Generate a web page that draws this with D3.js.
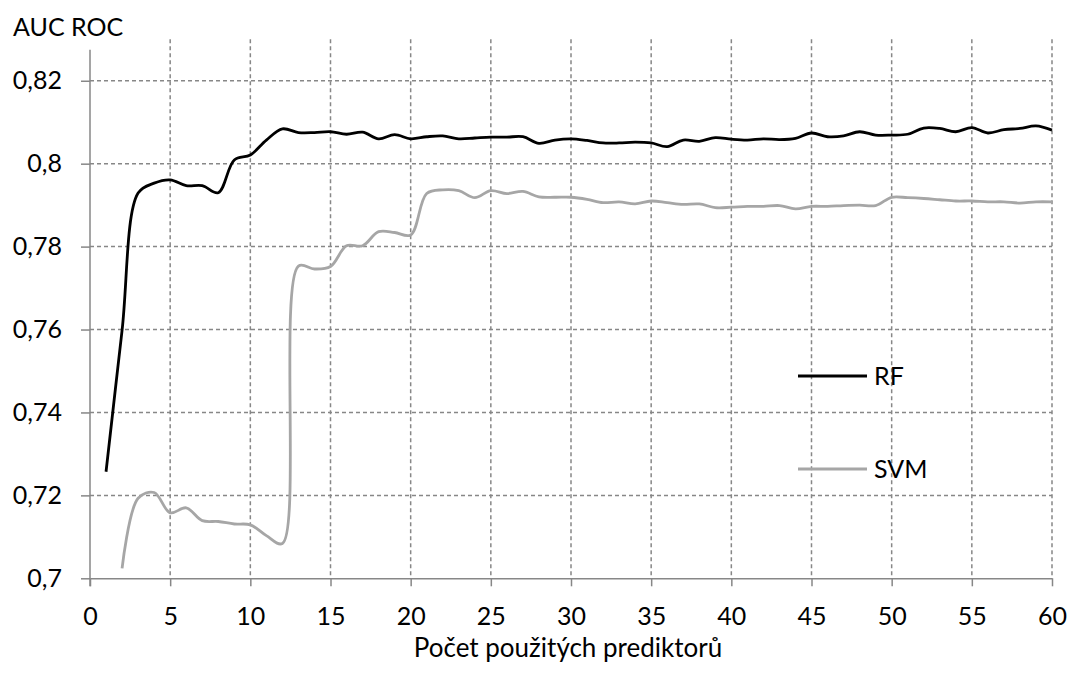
<!DOCTYPE html>
<html>
<head>
<meta charset="utf-8">
<script src="https://cdn.jsdelivr.net/npm/d3@7"></script>
<style>
  body { margin: 0; background: #fff; }
  text { font-family: Lato, "Open Sans", sans-serif; fill: #000; }
</style>
</head>
<body>
<div class="container"></div>
<script>
// x = number of predictors, y = AUC ROC
const rfX = d3.range(1, 61)
const rfValues = [
  0.7257, 0.7598, 0.7929, 0.7953, 0.7961, 0.7947, 0.7947, 0.7930, 0.8009, 0.8021,
  0.8057, 0.8084, 0.8075, 0.8075, 0.8077, 0.8071, 0.8076, 0.8060, 0.8070, 0.8060,
  0.8065, 0.8067, 0.8060, 0.8062, 0.8064, 0.8064, 0.8065, 0.8049, 0.8057, 0.8060,
  0.8056, 0.8050, 0.8050, 0.8052, 0.8050, 0.8041, 0.8057, 0.8054, 0.8063, 0.8059,
  0.8057, 0.8060, 0.8058, 0.8061, 0.8074, 0.8065, 0.8067, 0.8077, 0.8069, 0.8069,
  0.8071, 0.8086, 0.8085, 0.8077, 0.8087, 0.8074, 0.8082, 0.8085, 0.8091, 0.8081
]
const svmX = d3.range(2, 61)
const svmValues = [
  0.7024, 0.7193, 0.7207, 0.7158, 0.7170, 0.7139, 0.7137, 0.7131, 0.7129,
  0.7103, 0.7084, 0.7753, 0.7746, 0.7752, 0.7802, 0.7802, 0.7836, 0.7834, 0.7828,
  0.7928, 0.7937, 0.7935, 0.7918, 0.7935, 0.7928, 0.7933, 0.7920, 0.7919, 0.7919,
  0.7914, 0.7906, 0.7908, 0.7903, 0.7910, 0.7906, 0.7902, 0.7903, 0.7894, 0.7895,
  0.7897, 0.7897, 0.7899, 0.7891, 0.7897, 0.7897, 0.7899, 0.7900, 0.7899, 0.7919,
  0.7918, 0.7916, 0.7913, 0.7910, 0.7910, 0.7908, 0.7908, 0.7905, 0.7908, 0.7908
]
const xTicks = d3.range(0, 61, 5)
const yTicks = [0.7, 0.72, 0.74, 0.76, 0.78, 0.8, 0.82]
const seriesNames = ["RF", "SVM"]
const seriesColors = ["#000000", "#a6a6a6"]

const width = 1070, height = 674
const plotLeft = 90, plotRight = 1052, plotTop = 39.3, plotBottom = 578.3

const svg = d3.select(".container")
              .append("svg")
              .attr("width", width)
              .attr("height", height)

const x = d3.scaleLinear().domain([0, 60]).range([plotLeft, plotRight])
const y = d3.scaleLinear().domain([0.7, 0.83]).range([plotBottom, plotTop])

const gridColor = "#878787"

// horizontal grid
svg.selectAll(".hgrid")
   .data(yTicks.filter(d => d > 0.7))
   .enter()
   .append("line")
   .attr("x1", plotLeft).attr("x2", plotRight)
   .attr("y1", d => y(d)).attr("y2", d => y(d))
   .attr("stroke", gridColor)
   .attr("stroke-width", 1.5)
   .attr("stroke-dasharray", "4,3")

// vertical grid
svg.selectAll(".vgrid")
   .data(xTicks.filter(d => d > 0))
   .enter()
   .append("line")
   .attr("x1", d => x(d)).attr("x2", d => x(d))
   .attr("y1", plotTop).attr("y2", plotBottom)
   .attr("stroke", gridColor)
   .attr("stroke-width", 1.5)
   .attr("stroke-dasharray", "4,3")

// y axis
const yAxis = svg.append("g")
   .attr("transform", `translate(${plotLeft},0)`)
   .call(d3.axisLeft(y).tickValues(yTicks).tickSize(9).tickPadding(19)
     .tickFormat(d => String(+d.toFixed(2)).replace(".", ",")))
yAxis.select(".domain").remove()
yAxis.append("line")
   .attr("x1", 0).attr("x2", 0)
   .attr("y1", y(0.8275)).attr("y2", plotBottom + 8)
   .attr("stroke", gridColor).attr("stroke-width", 1.5)
yAxis.selectAll(".tick line").attr("stroke", gridColor).attr("stroke-width", 1.5)
yAxis.selectAll(".tick text").attr("font-size", 25).attr("font-family", "Lato").attr("fill", "#000")

// x axis
const xAxis = svg.append("g")
   .attr("transform", `translate(0,${plotBottom})`)
   .call(d3.axisBottom(x).tickValues(xTicks).tickSize(8).tickPadding(21).tickSizeOuter(0))
xAxis.select(".domain").attr("stroke", gridColor).attr("stroke-width", 1.5)
xAxis.selectAll(".tick line").attr("stroke", gridColor).attr("stroke-width", 1.5)
xAxis.selectAll(".tick text").attr("font-size", 25).attr("font-family", "Lato").attr("fill", "#000")

// lines (smoothed)
const line = d3.line()
   .x(d => x(d[0]))
   .y(d => y(d[1]))
   .curve(d3.curveCatmullRom.alpha(0.5))

const series = [
  rfX.map((v, i) => [v, rfValues[i]]),
  svmX.map((v, i) => [v, svmValues[i]])
]

svg.selectAll(".series")
   .data([1, 0])
   .enter()
   .append("path")
   .attr("d", i => line(series[i]))
   .attr("fill", "none")
   .attr("stroke", i => seriesColors[i])
   .attr("stroke-width", 2.8)
   .attr("stroke-linejoin", "round")

// legend
const legend = svg.selectAll(".legend")
   .data(seriesNames)
   .enter()
   .append("g")
   .attr("transform", (d, i) => `translate(798,${376 + i * 93})`)
legend.append("line")
   .attr("x1", 0).attr("x2", 69)
   .attr("stroke", (d, i) => seriesColors[i])
   .attr("stroke-width", 2.8)
legend.append("text")
   .attr("x", 76).attr("y", 9)
   .attr("font-size", 25)
   .text(d => d)

// titles
svg.append("text")
   .attr("x", 13).attr("y", 36)
   .attr("font-size", 25)
   .text("AUC ROC")

svg.append("text")
   .attr("x", (plotLeft + plotRight) / 2 - 3).attr("y", 657)
   .attr("text-anchor", "middle")
   .attr("font-size", 26)
   .text("Počet použitých prediktorů")
</script>
</body>
</html>
